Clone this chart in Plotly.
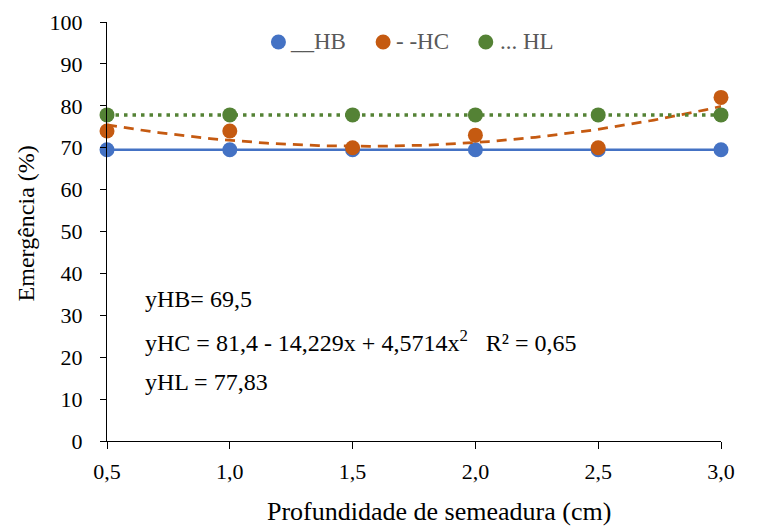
import numpy as np
import plotly.graph_objects as go

depth = [0.5, 1.0, 1.5, 2.0, 2.5, 3.0]
depth_labels = ["0,5", "1,0", "1,5", "2,0", "2,5", "3,0"]
hb = [69.5, 69.5, 69.5, 69.5, 69.5, 69.5]
hc = [74, 74, 70, 73, 70, 82]
hl = [77.83, 77.83, 77.83, 77.83, 77.83, 77.83]
y_ticks = [0, 10, 20, 30, 40, 50, 60, 70, 80, 90, 100]
legend_names = ["__HB", "- -HC", "... HL"]
equations = ["yHB= 69,5",
             "yHC = 81,4 - 14,229x + 4,5714x<sup>2</sup>   R² = 0,65",
             "yHL = 77,83"]

BLUE = "#4472C4"
ORANGE = "#C55A11"
GREEN = "#548235"
FONT = "Liberation Serif"

# quadratic trend fitted from HC data
coef = np.polyfit(depth, hc, 2)
xs = np.linspace(depth[0], depth[-1], 120)
ys = np.polyval(coef, xs)

fig = go.Figure()
fig.add_trace(go.Scatter(x=depth, y=hb, mode="lines+markers", name=legend_names[0],
                         showlegend=False, line=dict(color=BLUE, width=2.5),
                         marker=dict(color=BLUE, size=15), cliponaxis=False))
fig.add_trace(go.Scatter(x=xs, y=ys, mode="lines", showlegend=False,
                         line=dict(color=ORANGE, width=2.75, dash="10px,7px"),
                         cliponaxis=False))
fig.add_trace(go.Scatter(x=depth, y=hc, mode="markers", name=legend_names[1],
                         showlegend=False, marker=dict(color=ORANGE, size=15),
                         cliponaxis=False))
fig.add_trace(go.Scatter(x=depth, y=hl, mode="lines+markers", name=legend_names[2],
                         showlegend=False, line=dict(color=GREEN, width=3.5, dash="3.5px,5px"),
                         marker=dict(color=GREEN, size=15), cliponaxis=False))

fig.update_layout(
    width=757, height=529,
    margin=dict(l=99, r=44, t=14, b=96),
    paper_bgcolor="white", plot_bgcolor="white",
    font=dict(family=FONT, size=22, color="black"),
    showlegend=False,
    xaxis=dict(range=[0.5, 3.0], tickvals=depth, ticktext=depth_labels,
               showline=True, linecolor="black", linewidth=1.3,
               ticks="outside", ticklen=7, tickcolor="black", tickwidth=1.3,
               showgrid=False, zeroline=False, automargin=False,
               ticklabelstandoff=3,
               tickfont=dict(family=FONT, size=22, color="black")),
    yaxis=dict(range=[0, 100], tickvals=y_ticks,
               showline=True, linecolor="black", linewidth=1.3,
               ticks="outside", ticklen=6, tickcolor="black", tickwidth=1.3,
               showgrid=False, zeroline=False, automargin=False,
               ticklabelstandoff=13,
               tickfont=dict(family=FONT, size=22, color="black")),
)

# axis titles
fig.add_annotation(x=0.5406, xref="paper", y=-0.168, yref="paper",
                   text="Profundidade de semeadura (cm)", showarrow=False,
                   xanchor="center", yanchor="middle",
                   font=dict(family=FONT, size=26, color="black"))
fig.add_annotation(x=-0.1315, xref="paper", y=0.52, yref="paper",
                   text="Emergência (%)", showarrow=False, textangle=-90,
                   xanchor="center", yanchor="middle",
                   font=dict(family=FONT, size=24, color="black"))

# legend (circle symbol + label)
leg_dot_x = [0.2792, 0.4497, 0.6169]
leg_txt_x = [0.2955, 0.4675, 0.6364]
leg_y = 0.9523
for name, col, dx, tx in zip(legend_names, [BLUE, ORANGE, GREEN], leg_dot_x, leg_txt_x):
    fig.add_shape(type="circle", xref="paper", yref="paper",
                  xsizemode="pixel", ysizemode="pixel",
                  xanchor=dx, yanchor=leg_y, x0=-7.5, x1=7.5, y0=-7.5, y1=7.5,
                  fillcolor=col, line=dict(width=0))
    fig.add_annotation(x=tx, xref="paper", y=leg_y, yref="paper", text=name,
                       showarrow=False, xanchor="left", yanchor="middle",
                       font=dict(family=FONT, size=23, color="#595959"))

# equations
for yv, txt in zip([34.0, 23.9, 14.1], equations):
    fig.add_annotation(x=0.058, xref="paper", y=yv, yref="y", text=txt, showarrow=False,
                       xanchor="left", yanchor="middle",
                       font=dict(family=FONT, size=24, color="black"))

fig.write_html("out.html")
